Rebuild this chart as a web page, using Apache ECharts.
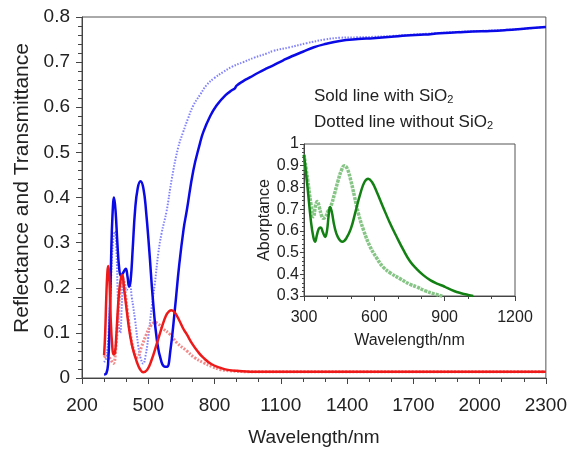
<!DOCTYPE html>
<html>
<head>
<meta charset="utf-8">
<script src="https://cdn.jsdelivr.net/npm/echarts@6/dist/echarts.min.js"></script>
<style>html,body{margin:0;padding:0;background:#fff;}#c{width:570px;height:452px;}</style>
</head>
<body>
<div id="c"></div>
<script>
// ---------- main chart data (wavelength nm / value) ----------
const tWithWl  = [300,310,318,325,332,338,345,352,360,368,376,385,398,406,413,420,430,440,452,465,478,490,505,520,540,560,575,585,600,620,640,660,674,704,734,749,780,809,850,880,892,900,930,960,1000,1036,1066,1111,1150,1200,1250,1300,1367,1450,1517,1600,1669,1750,1820,1900,1969,2050,2122,2200,2300];
const tWithVal = [0.008,0.010,0.030,0.120,0.270,0.360,0.400,0.370,0.300,0.245,0.226,0.232,0.242,0.225,0.203,0.215,0.290,0.370,0.420,0.436,0.420,0.370,0.280,0.180,0.080,0.035,0.025,0.025,0.060,0.150,0.250,0.330,0.370,0.460,0.520,0.545,0.580,0.604,0.627,0.638,0.642,0.648,0.658,0.666,0.677,0.686,0.693,0.704,0.713,0.723,0.733,0.740,0.747,0.751,0.753,0.756,0.759,0.761,0.764,0.766,0.768,0.769,0.771,0.774,0.778];

const tWithoutWl  = [300,310,320,330,340,349,356,362,368,373,380,387,394,402,410,417,425,440,455,465,477,488,500,515,530,545,560,583,606,635,658,680,704,735,764,800,839,880,930,980,1036,1066,1141,1217,1300,1367,1450,1517,1600,1700,1800,1900,2000,2100,2200,2300];
const tWithoutVal = [0.035,0.045,0.100,0.200,0.300,0.325,0.280,0.180,0.110,0.100,0.160,0.220,0.210,0.195,0.200,0.205,0.180,0.130,0.070,0.045,0.032,0.050,0.090,0.155,0.210,0.275,0.320,0.370,0.440,0.510,0.545,0.575,0.604,0.628,0.649,0.665,0.678,0.690,0.700,0.710,0.719,0.725,0.733,0.742,0.750,0.754,0.755,0.756,0.758,0.761,0.764,0.767,0.769,0.771,0.774,0.778];

const rWithWl  = [300,305,310,315,319,324,330,337,343,349,355,362,370,378,383,390,400,410,417,430,448,462,477,495,515,538,560,580,595,606,620,640,660,674,700,725,749,785,824,860,900,1000,1200,1500,1800,2100,2300];
const rWithVal = [0.050,0.100,0.180,0.235,0.248,0.220,0.130,0.070,0.052,0.055,0.090,0.150,0.200,0.225,0.228,0.200,0.160,0.120,0.097,0.065,0.036,0.020,0.013,0.018,0.040,0.075,0.110,0.138,0.148,0.150,0.145,0.128,0.108,0.097,0.075,0.058,0.045,0.031,0.023,0.018,0.016,0.014,0.014,0.014,0.014,0.014,0.014];

const rWithoutWl  = [300,315,330,342,352,362,372,383,392,405,420,435,450,470,490,510,530,545,565,598,630,674,710,749,790,824,870,950,1200,1500,1800,2100,2300];
const rWithoutVal = [0.045,0.050,0.040,0.032,0.060,0.130,0.190,0.215,0.200,0.150,0.095,0.060,0.046,0.070,0.095,0.115,0.123,0.120,0.110,0.097,0.078,0.060,0.045,0.034,0.025,0.019,0.016,0.014,0.014,0.014,0.014,0.014,0.014];

// ---------- inset data (absorptance) ----------
const aWithWl  = [300,305,315,330,340,347,355,363,371,380,390,398,405,411,418,430,445,464,480,500,520,540,558,574,590,610,637,665,695,725,752,780,810,840,870,894,910,940,970,1000,1022];
const aWithVal = [0.950,0.900,0.800,0.640,0.570,0.550,0.580,0.610,0.616,0.595,0.572,0.600,0.670,0.710,0.690,0.620,0.570,0.550,0.565,0.610,0.690,0.770,0.825,0.840,0.825,0.780,0.710,0.640,0.573,0.510,0.460,0.425,0.395,0.372,0.356,0.346,0.337,0.323,0.313,0.305,0.300];

const aWithoutWl  = [300,315,330,340,350,357,365,375,382,392,402,415,430,445,460,472,485,500,515,532,555,582,610,637,670,709,752,780,815,852,894];
const aWithoutVal = [0.950,0.840,0.720,0.665,0.720,0.735,0.710,0.670,0.658,0.665,0.690,0.715,0.770,0.830,0.880,0.900,0.885,0.830,0.760,0.680,0.600,0.527,0.475,0.434,0.405,0.380,0.354,0.342,0.325,0.311,0.298];

// ---------- axis ticks ----------
const mainXMajor = [200,500,800,1100,1400,1700,2000,2300];
const mainXMinor = [300,400,600,700,900,1000,1200,1300,1500,1600,1800,1900,2100,2200];

const zip = (a, b) => a.map((x, i) => [x, b[i]]);
const FONT = 'Liberation Sans, Arial, sans-serif';
const TXT = '#222';
const AX = '#444';
const plain = v => String(v);

const chart = echarts.init(document.getElementById('c'), null, {renderer: 'canvas'});
chart.setOption({
  animation: false,
  backgroundColor: '#fff',
  textStyle: {fontFamily: FONT},
  grid: [
    {left: 82, right: 24, top: 17, bottom: 74, show: true, borderColor: '#555', borderWidth: 1},
    {left: 304, right: 55, top: 144, bottom: 156, show: true, borderColor: '#555', borderWidth: 1}
  ],
  xAxis: [
    {type: 'value', gridIndex: 0, min: 200, max: 2300, position: 'bottom',
     name: 'Wavelength/nm', nameLocation: 'middle', nameGap: 50,
     nameTextStyle: {fontSize: 19, color: TXT, fontFamily: FONT},
     axisLine: {show: true, lineStyle: {color: AX}},
     axisTick: {show: true, customValues: mainXMajor, length: 6, lineStyle: {color: AX}},
     axisLabel: {customValues: mainXMajor, fontSize: 19, color: TXT, margin: 18, fontFamily: FONT, formatter: plain},
     splitLine: {show: false}},
    {type: 'value', gridIndex: 0, min: 200, max: 2300, position: 'bottom',
     axisLine: {show: false},
     axisTick: {show: true, customValues: mainXMinor, length: 4, lineStyle: {color: AX}},
     axisLabel: {show: false}, splitLine: {show: false}},
    {type: 'value', gridIndex: 1, min: 300, max: 1200, interval: 300,
     name: 'Wavelength/nm', nameLocation: 'middle', nameGap: 37,
     nameTextStyle: {fontSize: 16, color: TXT, fontFamily: FONT},
     axisLine: {show: true, lineStyle: {color: AX}},
     axisTick: {show: true, length: 5, lineStyle: {color: AX}},
     minorTick: {show: true, splitNumber: 3, length: 3, lineStyle: {color: AX}},
     axisLabel: {fontSize: 16, color: TXT, margin: 14, fontFamily: FONT, formatter: plain},
     splitLine: {show: false}}
  ],
  yAxis: [
    {type: 'value', gridIndex: 0, min: 0, max: 0.8, interval: 0.1,
     axisLine: {show: true, lineStyle: {color: AX}},
     axisTick: {show: true, length: 6, lineStyle: {color: AX}},
     minorTick: {show: true, splitNumber: 5, length: 4, lineStyle: {color: AX}},
     axisLabel: {fontSize: 19, color: TXT, margin: 12, fontFamily: FONT,
                 formatter: v => String(Math.round(v * 10) / 10)},
     splitLine: {show: false}},
    {type: 'value', gridIndex: 1, min: 0.3, max: 1, interval: 0.1,
     name: 'Aborptance', nameLocation: 'middle', nameGap: 31,
     nameTextStyle: {fontSize: 16, color: TXT, fontFamily: FONT},
     axisLine: {show: true, lineStyle: {color: AX}},
     axisTick: {show: true, length: 4, lineStyle: {color: AX}},
     minorTick: {show: true, splitNumber: 5, length: 2, lineStyle: {color: AX}},
     axisLabel: {fontSize: 16, color: TXT, margin: 5, fontFamily: FONT,
                 formatter: v => String(Math.round(v * 10) / 10)},
     splitLine: {show: false}}
  ],
  graphic: [
    {type: 'text', x: 22, y: 188, rotation: Math.PI / 2, style: {
      text: 'Reflectance and Transmittance', fill: TXT, font: '21px ' + FONT,
      align: 'center', verticalAlign: 'middle'}},
    {type: 'text', left: 314, top: 88, style: {
      text: 'Sold line with SiO{s|2}', fill: TXT, font: '17px ' + FONT,
      rich: {s: {fontSize: 11, fill: TXT, fontFamily: FONT, verticalAlign: 'bottom', padding: [7, 0, 0, 0]}}}},
    {type: 'text', left: 314, top: 114, style: {
      text: 'Dotted line without SiO{s|2}', fill: TXT, font: '17px ' + FONT,
      rich: {s: {fontSize: 11, fill: TXT, fontFamily: FONT, verticalAlign: 'bottom', padding: [7, 0, 0, 0]}}}}
  ],
  series: [
    {type: 'line', xAxisIndex: 0, yAxisIndex: 0, data: zip(tWithoutWl, tWithoutVal), showSymbol: false,
     smooth: 0.45, lineStyle: {color: '#5555ff', width: 2, type: [1.5, 1.5], opacity: 0.75}, z: 2},
    {type: 'line', xAxisIndex: 0, yAxisIndex: 0, data: zip(rWithoutWl, rWithoutVal), showSymbol: false,
     smooth: 0.45, lineStyle: {color: '#f28a8a', width: 3, type: [2, 1.5]}, z: 2},
    {type: 'line', xAxisIndex: 0, yAxisIndex: 0, data: zip(tWithWl, tWithVal), showSymbol: false,
     smooth: 0.45, lineStyle: {color: '#0a0ae6', width: 2.5}, z: 3},
    {type: 'line', xAxisIndex: 0, yAxisIndex: 0, data: zip(rWithWl, rWithVal), showSymbol: false,
     smooth: 0.45, lineStyle: {color: '#ee1a1a', width: 2.5}, z: 3},
    {type: 'line', xAxisIndex: 2, yAxisIndex: 1, data: zip(aWithoutWl, aWithoutVal), showSymbol: false,
     smooth: 0.45, lineStyle: {color: '#86c586', width: 3.5, type: [3, 1]}, z: 2},
    {type: 'line', xAxisIndex: 2, yAxisIndex: 1, data: zip(aWithWl, aWithVal), showSymbol: false,
     smooth: 0.45, lineStyle: {color: '#138013', width: 2.5}, z: 3}
  ]
});
</script>
</body>
</html>
